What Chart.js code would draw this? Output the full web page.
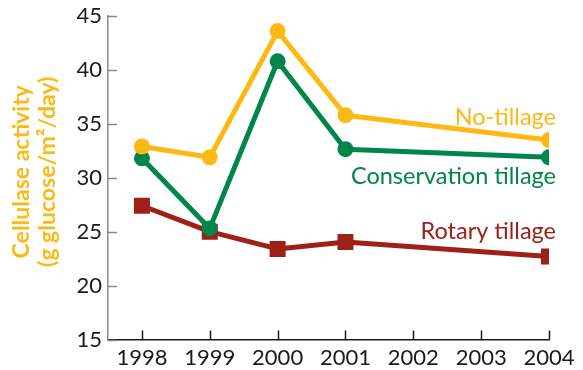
<!DOCTYPE html>
<html>
<head>
<meta charset="utf-8">
<script src="https://cdn.jsdelivr.net/npm/chart.js@4"></script>
<style>
  html, body { margin: 0; padding: 0; background: #ffffff; }
  canvas { display: block; }
</style>
</head>
<body>
<canvas id="chart" width="583" height="370"></canvas>
<script>
// Sampling years and measured cellulase activity (g glucose/m²/day)
const years = [1998, 1999, 2000, 2001, 2004];
const noTillage = [32.9, 31.9, 43.6, 35.8, 33.5];
const conservationTillage = [31.8, 25.3, 40.8, 32.65, 31.9];
const rotaryTillage = [27.4, 25.0, 23.4, 24.05, 22.7];

const xTickYears = [1998, 1999, 2000, 2001, 2002, 2003, 2004];
const yTickValues = [15, 20, 25, 30, 35, 40, 45];
const seriesNames = ['No-tillage', 'Conservation tillage', 'Rotary tillage'];
const yTitleLines = ['Cellulase activity', '(g glucose/m²/day)'];

const YELLOW = '#FDB913';
const GREEN = '#00854A';
const RED = '#9E2016';
const FONT = 'Lato, "Open Sans", sans-serif';

const toPoints = values => years.map((yr, i) => ({ x: yr, y: values[i] }));

function series(label, values, color, style, radius) {
  return {
    label,
    data: toPoints(values),
    borderColor: color,
    backgroundColor: color,
    borderWidth: 5,
    borderJoinStyle: 'round',
    borderCapStyle: 'round',
    pointStyle: style,
    pointRadius: radius,
    pointHoverRadius: radius,
    pointBorderWidth: 0,
    tension: 0
  };
}

// Inward tick marks on both axes
const innerTicks = {
  id: 'innerTicks',
  afterDraw(chart) {
    const { ctx, chartArea, scales } = chart;
    ctx.save();
    ctx.lineWidth = 1.5;
    ctx.strokeStyle = '#8a8a8a';
    ctx.beginPath();
    yTickValues.forEach(v => {
      const y = Math.round(scales.y.getPixelForValue(v)) + 0.5;
      ctx.moveTo(chartArea.left, y);
      ctx.lineTo(chartArea.left + 9, y);
    });
    ctx.stroke();
    ctx.strokeStyle = '#1a1a1a';
    ctx.beginPath();
    xTickYears.forEach(v => {
      const x = Math.round(scales.x.getPixelForValue(v)) + 0.5;
      ctx.moveTo(x, chartArea.bottom);
      ctx.lineTo(x, chartArea.bottom - 9);
    });
    ctx.stroke();
    ctx.restore();
  }
};

// Two-line rotated title for the value axis
const valueAxisTitle = {
  id: 'valueAxisTitle',
  afterDraw(chart) {
    const { ctx, chartArea } = chart;
    const cy = (chartArea.top + chartArea.bottom) / 2 - 6;
    ctx.save();
    ctx.font = 'bold 23px ' + FONT;
    ctx.fillStyle = YELLOW;
    ctx.textAlign = 'center';
    ctx.textBaseline = 'middle';
    yTitleLines.forEach((line, i) => {
      ctx.save();
      ctx.translate(22 + i * 26, cy);
      ctx.rotate(-Math.PI / 2);
      ctx.fillText(line, 0, 0);
      ctx.restore();
    });
    ctx.restore();
  }
};

// Series names written beside the final point of each line
const seriesLabels = {
  id: 'seriesLabels',
  afterDatasetsDraw(chart, args, opts) {
    const { ctx, chartArea, scales } = chart;
    ctx.save();
    ctx.font = '23.5px ' + FONT;
    ctx.textAlign = 'right';
    ctx.textBaseline = 'middle';
    chart.data.datasets.forEach((ds, i) => {
      const last = ds.data[ds.data.length - 1];
      const y = scales.y.getPixelForValue(last.y) + opts.offsets[i];
      ctx.fillStyle = ds.borderColor;
      ctx.fillText(seriesNames[i], chartArea.right + 7, y);
    });
    ctx.restore();
  }
};

new Chart(document.getElementById('chart'), {
  type: 'line',
  data: {
    datasets: [
      series(seriesNames[0], noTillage, YELLOW, 'circle', 8),
      series(seriesNames[1], conservationTillage, GREEN, 'circle', 8),
      series(seriesNames[2], rotaryTillage, RED, 'rect', 11.3)
    ]
  },
  options: {
    responsive: false,
    animation: false,
    layout: { padding: { top: 16, right: 34, bottom: 0, left: 0 } },
    plugins: {
      legend: { display: false },
      tooltip: { enabled: false },
      seriesLabels: { offsets: [-23, 19, -25] }
    },
    scales: {
      x: {
        type: 'linear',
        min: 1997.5,
        max: 2004,
        afterBuildTicks: scale => { scale.ticks = xTickYears.map(v => ({ value: v })); },
        afterFit: scale => { scale.height = 30.5; scale.paddingLeft = 0; scale.paddingRight = 0; },
        grid: { display: false, drawTicks: false },
        border: { display: true, color: '#1a1a1a', width: 1.5 },
        ticks: {
          color: '#1a1a1a',
          padding: 5,
          maxRotation: 0,
          font: { family: FONT, size: 22 },
          callback: v => String(v)
        }
      },
      y: {
        min: 15,
        max: 45,
        afterBuildTicks: scale => { scale.ticks = yTickValues.map(v => ({ value: v })); },
        afterFit: scale => { scale.width = 108; scale.paddingTop = 0; scale.paddingBottom = 0; },
        grid: { display: false, drawTicks: false },
        border: { display: true, color: '#8a8a8a', width: 1.5 },
        ticks: {
          color: '#1a1a1a',
          padding: 6,
          font: { family: FONT, size: 22 }
        }
      }
    }
  },
  plugins: [innerTicks, valueAxisTitle, seriesLabels]
});
</script>
</body>
</html>
